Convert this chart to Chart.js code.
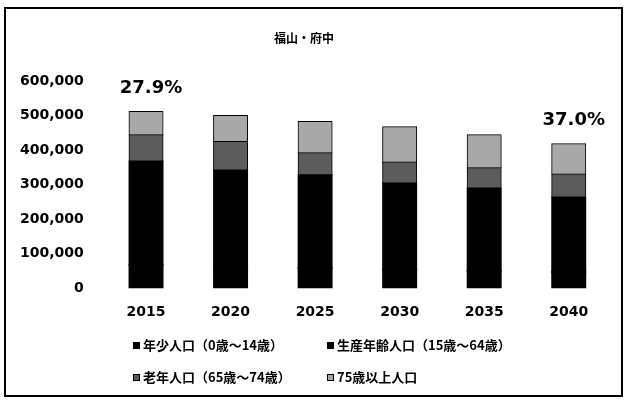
<!DOCTYPE html>
<html>
<head>
<meta charset="utf-8">
<script src="https://cdn.jsdelivr.net/npm/chart.js@4.4.1/dist/chart.umd.min.js"></script>
<style>
  html, body { margin: 0; padding: 0; background: #fff; }
  #wrap { width: 624px; height: 400px; }
</style>
</head>
<body>
<div id="wrap"><canvas id="popChart"></canvas></div>
<script>
const years = ['2015', '2020', '2025', '2030', '2035', '2040'];
const youth = [68000, 64000, 59000, 54000, 50000, 47000];          // 0-14
const working = [299000, 277000, 268000, 249000, 239000, 216000];  // 15-64
const elderly = [76000, 82000, 64000, 61000, 58000, 66000];        // 65-74
const oldOld = [67000, 76000, 90000, 102000, 96000, 88000];        // 75+
const agingLabels = ['27.9%', '', '', '', '', '37.0%'];
const yTicks = [0, 100000, 200000, 300000, 400000, 500000, 600000];

const seriesNames = ['年少人口（0歳～14歳）', '生産年齢人口（15歳～64歳）', '老年人口（65歳～74歳）', '75歳以上人口'];
const seriesColors = ['#000000', '#000000', '#5c5c5c', '#a8a8a8'];

const numFont = 'DejaVu Sans, Verdana, sans-serif';
const cjkFont = '"Noto Sans CJK JP", sans-serif';

// title, % labels, legend and the frame
const overlay = {
  id: 'overlay',
  beforeDraw(chart) {
    const ctx = chart.ctx;
    ctx.save();
    ctx.fillStyle = '#fff';
    ctx.fillRect(0, 0, chart.width, chart.height);
    ctx.restore();
  },
  afterDraw(chart) {
    const { ctx, scales: { x, y } } = chart;
    ctx.save();
    ctx.strokeStyle = '#000';
    ctx.lineWidth = 2;
    ctx.strokeRect(5, 8, 617, 388);

    ctx.fillStyle = '#000';
    ctx.textAlign = 'center';
    ctx.textBaseline = 'middle';
    ctx.font = 'bold 12px ' + cjkFont;
    ctx.fillText('福山・府中', 304, 38);

    ctx.font = 'bold 18px ' + numFont;
    agingLabels.forEach((t, i) => {
      if (!t) return;
      const total = youth[i] + working[i] + elderly[i] + oldOld[i];
      ctx.fillText(t, x.getPixelForValue(i) + 5, y.getPixelForValue(total) - 24);
    });

    // legend, two columns
    const cols = [133, 327];
    const rows = [345, 377];
    ctx.textAlign = 'left';
    ctx.font = 'bold 13px ' + cjkFont;
    chart.data.datasets.forEach((ds, i) => {
      const lx = cols[i % 2];
      const ly = rows[Math.floor(i / 2)];
      ctx.fillStyle = ds.backgroundColor;
      ctx.fillRect(lx, ly - 3, 7, 7);
      ctx.strokeStyle = '#000';
      ctx.lineWidth = 1;
      ctx.strokeRect(lx + 0.5, ly - 2.5, 6, 6);
      ctx.fillStyle = '#000';
      ctx.fillText(ds.label, lx + 10, ly);
    });
    ctx.restore();
  }
};

const ctx = document.getElementById('popChart').getContext('2d');

new Chart(ctx, {
  type: 'bar',
  data: {
    labels: years,
    datasets: [youth, working, elderly, oldOld].map((d, i) => ({
      label: seriesNames[i],
      data: d,
      backgroundColor: seriesColors[i],
      borderColor: '#000',
      borderWidth: i > 1 ? 1 : 0,
      inflateAmount: 1,
      barPercentage: 0.39,
      categoryPercentage: 1,
    })),
  },
  options: {
    responsive: true,
    maintainAspectRatio: false,
    animation: false,
    layout: { padding: { top: 81, left: 0, right: 13, bottom: 63 } },
    plugins: {
      legend: { display: false },
      title: { display: false },
      tooltip: { enabled: false },
    },
    scales: {
      x: {
        stacked: true,
        grid: { display: false, drawTicks: false },
        border: { display: false },
        ticks: { color: '#000', padding: 16, font: { family: numFont, size: 14, weight: 'bold' } },
      },
      y: {
        stacked: true,
        min: 0,
        max: 600000,
        afterBuildTicks: (axis) => { axis.ticks = yTicks.map(v => ({ value: v })); },
        grid: { display: false, drawTicks: false },
        border: { display: false },
        ticks: {
          color: '#000',
          padding: 20,
          font: { family: numFont, size: 14, weight: 'bold' },
          callback: (value) => value.toLocaleString('en-US'),
        },
      },
    },
  },
  plugins: [overlay],
});
</script>
</body>
</html>
